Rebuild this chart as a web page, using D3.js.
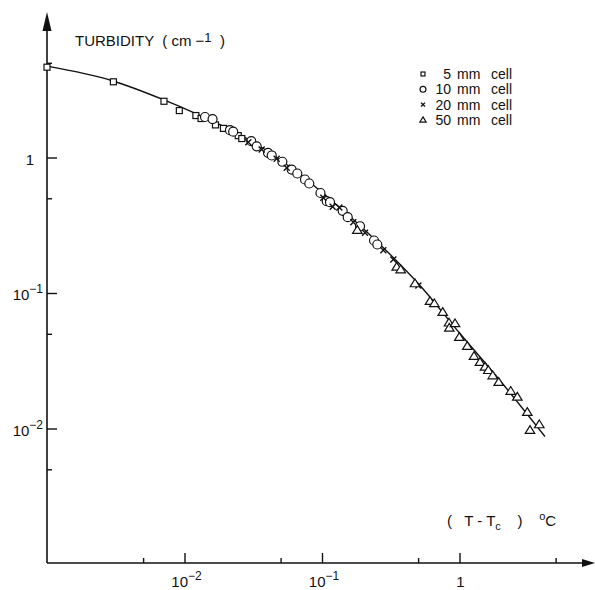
<!DOCTYPE html>
<html>
<head>
<meta charset="utf-8">
<script src="https://cdn.jsdelivr.net/npm/d3@7"></script>
<style>
  body { margin: 0; background: #fff; }
  svg text { font-family: "Liberation Sans", Arial, sans-serif; fill: #111; white-space: pre; }
</style>
</head>
<body>
<svg id="chart" width="595" height="590"></svg>
<script>
// turbidity (cm-1) vs T - Tc (deg C)
var cell5 = [
    [0.001, 4.64], [0.00304, 3.62], [0.00709, 2.60], [0.00917, 2.22],
    [0.0121, 2.04], [0.0132, 1.94], [0.0168, 1.74], [0.0192, 1.64],
    [0.0246, 1.45], [0.0261, 1.38]
];
var cell10 = [
    [0.0141, 1.99], [0.0160, 1.92], [0.0214, 1.59], [0.0226, 1.55],
    [0.0306, 1.32], [0.0335, 1.21], [0.0405, 1.083], [0.0431, 1.035],
    [0.0515, 0.930], [0.0602, 0.815], [0.0661, 0.762], [0.0752, 0.688],
    [0.0808, 0.643], [0.0975, 0.547], [0.1082, 0.476], [0.1143, 0.468],
    [0.1414, 0.404], [0.1538, 0.363], [0.189, 0.311], [0.239, 0.244],
    [0.2525, 0.228]
];
var cell20 = [
    [0.0291, 1.297], [0.0364, 1.146], [0.0468, 0.978], [0.0554, 0.839],
    [0.1022, 0.504], [0.1196, 0.433], [0.1336, 0.428], [0.1689, 0.333],
    [0.2055, 0.278], [0.2792, 0.207], [0.330, 0.177], [0.502, 0.1136]
];
var cell50 = [
    [0.1806, 0.291], [0.3495, 0.156], [0.3736, 0.149], [0.4747, 0.1175],
    [0.610, 0.0870], [0.656, 0.0837], [0.755, 0.0722], [0.839, 0.0603],
    [0.843, 0.0553], [0.928, 0.0596], [0.997, 0.0472], [1.139, 0.0405],
    [1.275, 0.0342], [1.409, 0.0309], [1.533, 0.0285], [1.620, 0.0269],
    [1.744, 0.0246], [1.928, 0.0220], [2.357, 0.0189], [2.633, 0.0171],
    [3.112, 0.0132], [3.805, 0.0107], [3.256, 0.00972]
];
// fitted curve
var fitCurve = [
    [0.001, 4.72], [0.00302, 3.67], [0.00709, 2.66], [0.0121, 2.11],
    [0.0214, 1.61], [0.0405, 1.107], [0.0752, 0.700], [0.1398, 0.413],
    [0.2641, 0.228], [0.516, 0.1136], [1.008, 0.0502], [1.970, 0.0226],
    [4.185, 0.00873]
];
var majorTicks = [0.01, 0.1, 1];
var minorTicks = [0.005, 0.05, 0.5, 5];
var xTickLabels = [["10", "\u22122"], ["10", "\u22121"], ["1", ""]];
var yTickLabels = [["1", ""], ["10", "\u22121"], ["10", "\u22122"]];
var legendItems = [["5", "square"], ["10", "circle"], ["20", "cross"], ["50", "triangle"]];

var svg = d3.select("#chart");
var ink = "#111";

var x = d3.scaleLog().domain([1e-3, 10]).range([47, 597]);
var y = d3.scaleLog().domain([1e-3, 10]).range([564, 22]);
var x0 = 47, y0 = 563;

// axes lines with arrow heads
svg.append("line")
    .attr("x1", x0).attr("y1", y0).attr("x2", 586).attr("y2", y0)
    .attr("stroke", ink).attr("stroke-width", 1.6);
svg.append("path")
    .attr("d", "M595," + y0 + "L582," + (y0 - 4) + "L582," + (y0 + 4) + "Z")
    .attr("fill", ink);
svg.append("line")
    .attr("x1", x0).attr("y1", y0).attr("x2", x0).attr("y2", 26)
    .attr("stroke", ink).attr("stroke-width", 1.6);
svg.append("path")
    .attr("d", "M" + x0 + ",12L" + (x0 - 4.5) + ",31L" + (x0 + 4.5) + ",31Z")
    .attr("fill", ink);

function tickAxis(axis, transform) {
    var g = svg.append("g").attr("transform", transform).call(axis);
    g.select(".domain").remove();
    g.selectAll("line").attr("stroke", ink).attr("stroke-width", 1.4);
    g.selectAll("text").remove();
}
tickAxis(d3.axisTop(x).tickValues(majorTicks).tickSize(10), "translate(0," + y0 + ")");
tickAxis(d3.axisTop(x).tickValues(minorTicks).tickSize(5), "translate(0," + y0 + ")");
tickAxis(d3.axisRight(y).tickValues(majorTicks).tickSize(10), "translate(" + x0 + ",0)");
tickAxis(d3.axisRight(y).tickValues(minorTicks).tickSize(5), "translate(" + x0 + ",0)");

// tick labels with superscripts
function powLabel(g, lab, px, py, anchor) {
    var t = g.append("text").attr("x", px).attr("y", py)
        .attr("text-anchor", anchor).attr("font-size", 15);
    t.append("tspan").text(lab[0]);
    if (lab[1]) {
        t.append("tspan").attr("dy", -7).attr("font-size", 12).text(lab[1]);
    }
}
var labG = svg.append("g");
[1, 0.1, 0.01].forEach(function (v, i) {
    powLabel(labG, xTickLabels[2 - i], x(v) + (i === 0 ? 1 : 2), y0 + 24, "middle");
});
[1, 0.1, 0.01].forEach(function (v, i) {
    powLabel(labG, yTickLabels[i], x0 - (i === 0 ? 13 : 4), y(v) + 7, "end");
});

// curve
var line = d3.line()
    .x(function (d) { return x(d[0]); })
    .y(function (d) { return y(d[1]); })
    .curve(d3.curveMonotoneX);
svg.append("path")
    .datum(fitCurve)
    .attr("d", line)
    .attr("fill", "none").attr("stroke", ink).attr("stroke-width", 1.4);

// markers
function drawMarker(g, kind, cx, cy, s) {
    if (kind === "square") {
        g.append("rect").attr("x", cx - s * 0.6).attr("y", cy - s * 0.6)
            .attr("width", s * 1.2).attr("height", s * 1.2)
            .attr("fill", "#fff").attr("stroke", ink).attr("stroke-width", 1.2);
    } else if (kind === "circle") {
        g.append("circle").attr("cx", cx).attr("cy", cy).attr("r", s * 0.9)
            .attr("fill", "#fff").attr("stroke", ink).attr("stroke-width", 1.2);
    } else if (kind === "cross") {
        g.append("path")
            .attr("d", "M" + (cx - s * 0.6) + "," + (cy - s * 0.6) + "L" + (cx + s * 0.6) + "," + (cy + s * 0.6) +
                "M" + (cx - s * 0.6) + "," + (cy + s * 0.6) + "L" + (cx + s * 0.6) + "," + (cy - s * 0.6))
            .attr("stroke", ink).attr("stroke-width", 1.4);
    } else {
        g.append("path")
            .attr("d", "M" + cx + "," + (cy - s * 0.9) + "L" + (cx + s * 0.95) + "," + (cy + s * 0.65) +
                "L" + (cx - s * 0.95) + "," + (cy + s * 0.65) + "Z")
            .attr("fill", "#fff").attr("stroke", ink).attr("stroke-width", 1.2);
    }
}
var markG = svg.append("g");
[[cell5, "square"], [cell10, "circle"], [cell20, "cross"], [cell50, "triangle"]].forEach(function (s) {
    s[0].forEach(function (d) { drawMarker(markG, s[1], x(d[0]), y(d[1]), 5); });
});

// title and axis label
var title = svg.append("text").attr("x", 75).attr("y", 46).attr("font-size", 15);
title.append("tspan").text("TURBIDITY  ( cm ");
title.append("tspan").text("\u2212");
title.append("tspan").attr("dy", -4).attr("font-size", 13).text("1");
title.append("tspan").attr("dy", 4).text("  )");

var xl = svg.append("text").attr("x", 447).attr("y", 526).attr("font-size", 15);
xl.append("tspan").text("(   T - T");
xl.append("tspan").attr("dy", 4).attr("font-size", 11).text("c");
xl.append("tspan").attr("dy", -4).text("    )    ");
xl.append("tspan").attr("dy", -6).attr("font-size", 11).text("o");
xl.append("tspan").attr("dy", 6).text("C");

// legend
var legG = svg.append("g");
legendItems.forEach(function (d, i) {
    var ly = 75 + i * 15.3;
    drawMarker(legG, d[1], 423, ly - 1, 3.3);
    legG.append("text").attr("x", 451).attr("y", ly + 4).attr("text-anchor", "end")
        .attr("font-size", 14).text(d[0]);
    legG.append("text").attr("x", 457).attr("y", ly + 4).attr("font-size", 14).text("mm");
    legG.append("text").attr("x", 491).attr("y", ly + 4).attr("font-size", 14).text("cell");
});
</script>
</body>
</html>
